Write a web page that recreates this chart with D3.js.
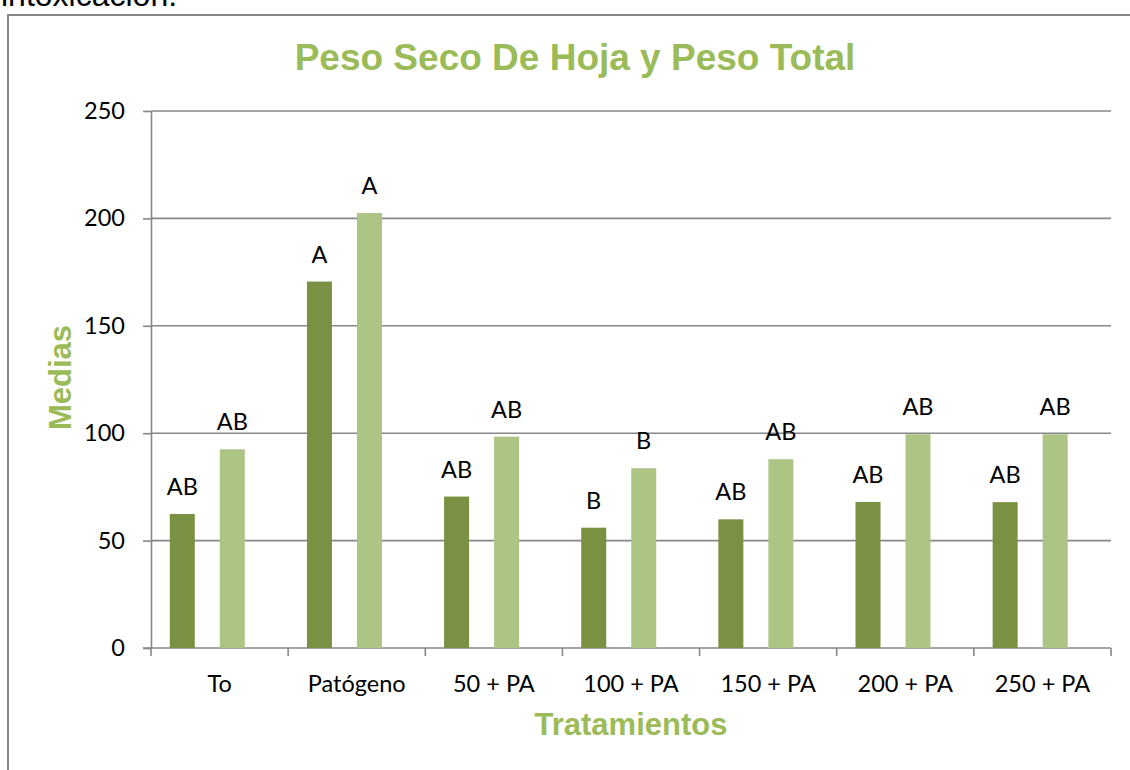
<!DOCTYPE html>
<html>
<head>
<meta charset="utf-8">
<script src="https://cdn.jsdelivr.net/npm/d3@7"></script>
<style>
  body { margin: 0; background: #fff; overflow: hidden; }
  svg { display: block; }
</style>
</head>
<body>
<svg id="chart" width="1130" height="770"></svg>
<script>
// data
var categories = ["To", "Patógeno", "50 + PA", "100 + PA", "150 + PA", "200 + PA", "250 + PA"];
var series = ["hoja", "total"];
var pesoHoja = [62.4, 170.6, 70.5, 56.0, 59.9, 68.0, 67.9];
var pesoTotal = [92.5, 202.5, 98.4, 83.7, 87.9, 99.5, 99.5];
var letrasHoja = ["AB", "A", "AB", "B", "AB", "AB", "AB"];
var letrasTotal = ["AB", "A", "AB", "B", "AB", "AB", "AB"];
var yTicks = [0, 50, 100, 150, 200, 250];

var colors = {hoja: "#7a9143", total: "#adc584"};
var gray = "#878787";
var green = "#9bbb59";
var labelFont = "Lato, 'Noto Sans', sans-serif";
var titleFont = "'Liberation Sans', Arial, sans-serif";
var labelSize = 23.5;

var svg = d3.select("#chart");

// text from the page above the chart, cut off by the screenshot
svg.append("text")
    .attr("x", 1).attr("y", 6)
    .attr("font-family", titleFont)
    .attr("font-size", 32)
    .attr("fill", "#000")
    .text("intoxicación.");

// chart frame (runs off the right and bottom edges)
svg.append("rect")
    .attr("x", 8).attr("y", 15)
    .attr("width", 1300).attr("height", 900)
    .attr("fill", "#fff")
    .attr("stroke", gray)
    .attr("stroke-width", 2);

var plot = {left: 151, right: 1111, top: 111, bottom: 648};

var x0 = d3.scaleBand().domain(categories).range([plot.left, plot.right]);
var bw = x0.bandwidth();
var x1 = d3.scaleBand().domain(series)
    .range([bw * 0.137, bw * 0.684])
    .paddingInner(0.5);
var y = d3.scaleLinear().domain([0, 250]).range([plot.bottom, plot.top]);

// gridlines
svg.append("g").selectAll("line")
    .data(yTicks.filter(function(d) { return d > 0; }))
    .join("line")
    .attr("x1", plot.left).attr("x2", plot.right)
    .attr("y1", function(d) { return y(d); })
    .attr("y2", function(d) { return y(d); })
    .attr("stroke", gray)
    .attr("stroke-width", 1.6);

// y axis
var yAxis = svg.append("g")
    .attr("transform", "translate(" + plot.left + ",0)")
    .call(d3.axisLeft(y).tickValues(yTicks).tickSize(8).tickPadding(18).tickSizeOuter(0));
yAxis.select(".domain").attr("stroke", gray).attr("stroke-width", 1.6);
yAxis.selectAll(".tick line").attr("stroke", gray).attr("stroke-width", 1.6);
yAxis.selectAll(".tick text")
    .attr("font-family", labelFont)
    .attr("font-size", labelSize)
    .attr("fill", "#000");

// x axis: labels centred, ticks on the category boundaries
var xAxis = svg.append("g")
    .attr("transform", "translate(0," + plot.bottom + ")")
    .call(d3.axisBottom(x0).tickSize(0).tickPadding(27).tickSizeOuter(0));
xAxis.select(".domain").remove();
xAxis.selectAll(".tick text")
    .attr("font-family", labelFont)
    .attr("font-size", labelSize)
    .attr("fill", "#000");

svg.append("line")
    .attr("x1", plot.left - 8).attr("x2", plot.right)
    .attr("y1", plot.bottom).attr("y2", plot.bottom)
    .attr("stroke", gray).attr("stroke-width", 1.6);

var bounds = categories.map(function(c) { return x0(c); }).concat([x0(categories[categories.length - 1]) + bw]);
svg.append("g").selectAll("line")
    .data(bounds)
    .join("line")
    .attr("x1", function(d) { return d; }).attr("x2", function(d) { return d; })
    .attr("y1", plot.bottom).attr("y2", plot.bottom + 8)
    .attr("stroke", gray).attr("stroke-width", 1.6);

// bars
var rows = categories.map(function(c, i) {
    return [
        {cat: c, key: "hoja", value: pesoHoja[i], label: letrasHoja[i]},
        {cat: c, key: "total", value: pesoTotal[i], label: letrasTotal[i]}
    ];
});

var groups = svg.append("g").selectAll("g")
    .data(rows)
    .join("g")
    .attr("transform", function(d) { return "translate(" + x0(d[0].cat) + ",0)"; });

groups.selectAll("rect")
    .data(function(d) { return d; })
    .join("rect")
    .attr("x", function(d) { return x1(d.key); })
    .attr("width", x1.bandwidth())
    .attr("y", function(d) { return y(d.value); })
    .attr("height", function(d) { return y(0) - y(d.value); })
    .attr("fill", function(d) { return colors[d.key]; });

groups.selectAll("text")
    .data(function(d) { return d; })
    .join("text")
    .attr("x", function(d) { return x1(d.key) + x1.bandwidth() / 2; })
    .attr("y", function(d) { return y(d.value) - 19; })
    .attr("text-anchor", "middle")
    .attr("font-family", labelFont)
    .attr("font-size", labelSize)
    .attr("fill", "#000")
    .text(function(d) { return d.label; });

// titles
svg.append("text")
    .attr("x", 575).attr("y", 70)
    .attr("text-anchor", "middle")
    .attr("font-family", titleFont)
    .attr("font-weight", "bold")
    .attr("font-size", 37)
    .attr("fill", green)
    .text("Peso Seco De Hoja y Peso Total");

svg.append("text")
    .attr("x", (plot.left + plot.right) / 2).attr("y", 735)
    .attr("text-anchor", "middle")
    .attr("font-family", titleFont)
    .attr("font-weight", "bold")
    .attr("font-size", 31)
    .attr("fill", green)
    .text("Tratamientos");

svg.append("text")
    .attr("transform", "translate(71," + ((plot.top + plot.bottom) / 2 - 2) + ") rotate(-90)")
    .attr("text-anchor", "middle")
    .attr("font-family", titleFont)
    .attr("font-weight", "bold")
    .attr("font-size", 31)
    .attr("fill", green)
    .text("Medias");
</script>
</body>
</html>
